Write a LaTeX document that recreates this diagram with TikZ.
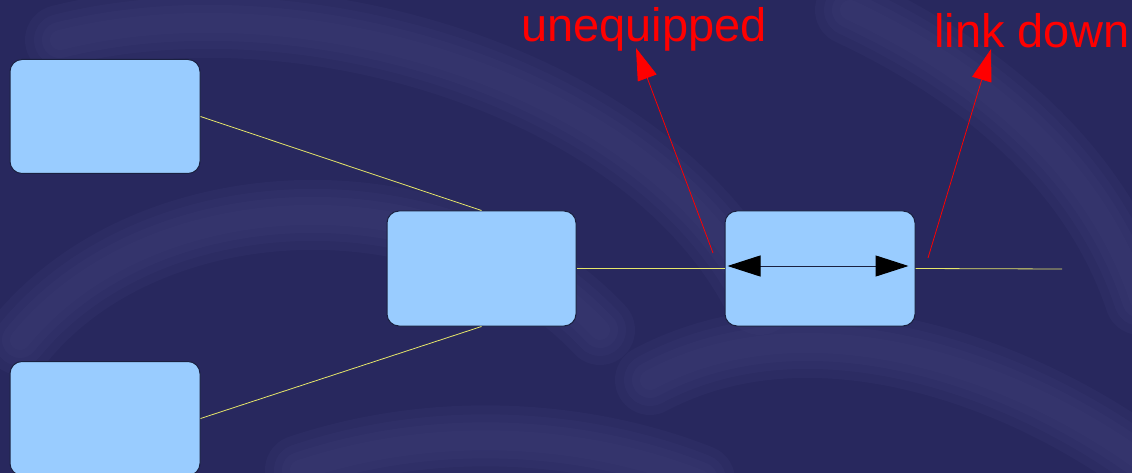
\documentclass[tikz,border=0pt]{standalone}
\usepackage{fontspec}
\setmainfont{Liberation Sans}
\usetikzlibrary{arrows.meta}
\definecolor{bgnavy}{HTML}{28285E}
\definecolor{bgband}{HTML}{40407A}
\definecolor{boxfill}{HTML}{99CCFF}
\definecolor{boxline}{HTML}{1A2040}
\definecolor{linkline}{HTML}{E6E66A}
\definecolor{alarmred}{HTML}{FF0000}
\tikzset{
  nebox/.style={draw=boxline, line width=1pt, fill=boxfill, rounded corners=12pt,
    minimum width=190pt, minimum height=114pt, inner sep=0pt},
  link/.style={draw=linkline, line width=0.8pt},
  alarm/.style={draw=alarmred, line width=0.8pt, -{Triangle[length=32pt,width=20pt]}},
  alarmtext/.style={text=alarmred, font=\fontsize{47}{47}\selectfont, inner sep=0pt, anchor=base west},
  tip/.tip={Triangle[length=33pt,width=21pt,black]},
  haze/.style={bgband, line cap=round, opacity=0.18, line width=#1},
}
% a soft band: the same curve stroked several times at shrinking widths
\newcommand\softband[1]{%
  \draw[haze=70pt] #1; \draw[haze=52pt] #1; \draw[haze=36pt] #1; \draw[haze=20pt] #1;}
\begin{document}
\begin{tikzpicture}[x=1pt,y=-1pt]
  \useasboundingbox (0,0) rectangle (1132,473);
  % background with soft swirl bands
  \fill[bgnavy] (0,0) rectangle (1132,473);
  \begin{scope}
    \clip (0,0) rectangle (1132,473);
    \softband{(60,40) .. controls (300,-20) and (650,80) .. (760,300)}
    \softband{(20,340) .. controls (150,180) and (450,170) .. (600,330)}
    \softband{(850,10) .. controls (1000,80) and (1100,180) .. (1140,300)}
    \softband{(650,380) .. controls (800,300) and (1000,360) .. (1140,460)}
    \softband{(300,470) .. controls (450,420) and (600,440) .. (700,480)}
  \end{scope}

  % network elements
  \node[nebox] (a) at (105,116.5) {};
  \node[nebox] (b) at (105,418.5) {};
  \node[nebox, minimum width=189pt, minimum height=115pt] (c) at (481.5,268.5) {};
  \node[nebox, minimum height=115pt] (d) at (820,268.5) {};
  \coordinate (tail) at (1062,269);

  % links
  \draw[link] (a.east) -- (c.north);
  \draw[link] (b.east) -- (c.south);
  \draw[link] (c.east) -- (d.west);
  \draw[link] (d.east) -- (tail);

  % bidirectional path through the element
  \draw[draw=boxline, line width=1pt, tip-tip]
    ([xshift=3pt,yshift=2.5pt]d.west) -- ([xshift=-7pt,yshift=2.5pt]d.east);

  % alarm labels
  \node[alarmtext] (uneq) at (521,42) {unequipped};
  \node[alarmtext] (ldown) at (934,48) {link down};
  \coordinate (uneqfrom) at (713,253);
  \coordinate (uneqto) at (636,48);
  \coordinate (ldownfrom) at (928,258);
  \coordinate (ldownto) at (991,49);
  \draw[alarm] (uneqfrom) -- (uneqto);
  \draw[alarm] (ldownfrom) -- (ldownto);
\end{tikzpicture}
\end{document}
